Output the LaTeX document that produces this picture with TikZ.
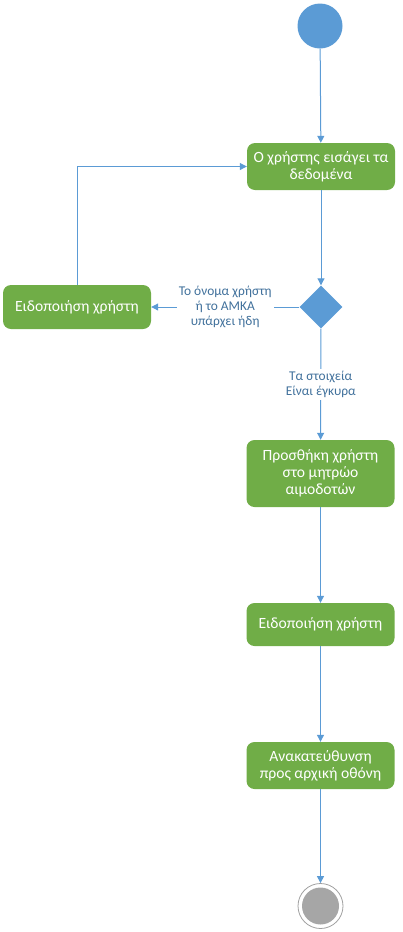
\documentclass[tikz,border=0pt]{standalone}
\usepackage{fontspec}
\setmainfont{Carlito}
\usetikzlibrary{arrows.meta,shapes.geometric}
\definecolor{gr}{HTML}{70AD47}
\definecolor{bl}{HTML}{5B9BD5}
\definecolor{lbl}{HTML}{41719C}
\definecolor{endgray}{HTML}{A6A6A6}
\definecolor{ringgray}{HTML}{A0A0A0}
\begin{document}
\begin{tikzpicture}[x=1pt,y=-1pt,
  act/.style={rectangle, rounded corners=8pt, fill=gr, text=white, minimum width=148pt,
    align=center, font=\fontsize{15.6}{16.8}\selectfont, inner sep=0pt},
  flow/.style={draw=bl, line width=1pt, -{Triangle[width=7pt,length=7pt]}},
  lab/.style={fill=white, text=lbl, align=center, font=\fontsize{13.4}{15}\selectfont, inner sep=2pt}]
\useasboundingbox (0,0) rectangle (402,932);
\node[circle, fill=bl, minimum size=45pt, inner sep=0pt] (start) at (320,26) {};
\node[act, minimum height=47pt] (b1) at (321,166.5) {Ο χρήστης εισάγει τα\\δεδομένα};
\node[diamond, fill=bl, minimum width=43pt, minimum height=43pt, inner sep=0pt] (d) at (321,307) {};
\node[act, minimum height=44pt] (left) at (77,307) {Ειδοποιήση χρήστη};
\node[act, minimum height=67pt] (b3) at (320.5,473.5) {Προσθήκη χρήστη\\στο μητρώο\\αιμοδοτών};
\node[act, minimum height=43pt] (b4) at (320.5,624.5) {Ειδοποιήση χρήστη};
\node[act, minimum height=47pt] (b5) at (320.5,765.5) {Ανακατεύθυνση\\προς αρχική οθόνη};
\node[circle, draw=ringgray, line width=0.8pt, minimum size=45pt, inner sep=0pt] (end) at (320.5,906) {};
\node[circle, fill=endgray, minimum size=37pt, inner sep=0pt] (endin) at (end) {};
\draw[flow] (start) -- (b1);
\draw[flow] (b1) -- (d);
\draw[flow] (d) -- node[lab]{Το όνομα χρήστη\\ή το ΑΜΚΑ\\υπάρχει ήδη} (left);
\draw[flow] (d) -- node[lab]{Τα στοιχεία\\Είναι έγκυρα} (b3);
\draw[flow] (left.north) |- (b1.west);
\draw[flow] (b3) -- (b4);
\draw[flow] (b4) -- (b5);
\draw[flow] (b5) -- (end);
\end{tikzpicture}
\end{document}
